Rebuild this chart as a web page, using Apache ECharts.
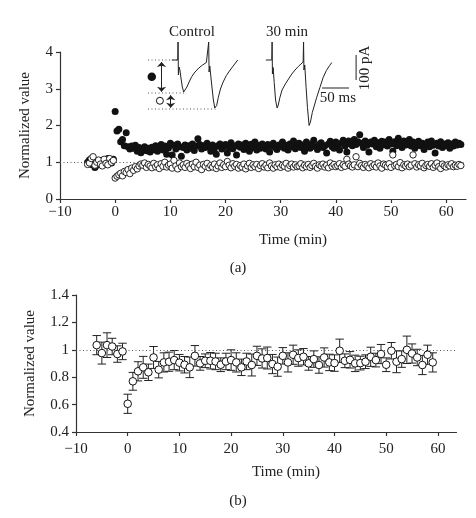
<!DOCTYPE html>
<html>
<head>
<meta charset="utf-8">
<script src="https://cdn.jsdelivr.net/npm/echarts@6/dist/echarts.min.js"></script>
<style>
html,body{margin:0;padding:0;background:#fff;}
#chart{width:476px;height:518px;}
</style>
</head>
<body>
<div id="chart"></div>
<script>
// ---------- Panel (a) data: sampled every 1/3 min ----------
const aBaseStart = -5;       // first baseline time (min)
const aPostStart = 0;        // first post time (min)
const aStep = 1 / 3;         // sampling step (min)
const aFilledBase = [1.00,1.06,0.94,1.08,0.86,0.92,1.02,0.96,1.05,1.00,0.94,1.10,1.04,0.98,1.08];
const aOpenBase   = [0.94,0.98,1.10,1.15,0.92,1.00,1.06,0.95,0.90,1.08,0.97,0.93,1.10,1.00,1.05];
const aFilledPost = [
 2.38,1.85,1.90,1.56,1.62,1.45,1.80,1.42,1.36,1.44,
 1.38,1.46,1.30,1.40,1.26,1.36,1.42,1.31,1.38,1.28,
 1.41,1.34,1.45,1.30,1.37,1.48,1.33,1.44,1.22,1.39,
 1.52,1.20,1.46,1.36,1.50,1.42,1.16,1.40,1.47,1.33,
 1.45,1.38,1.50,1.32,1.44,1.64,1.48,1.36,1.45,1.40,
 1.52,1.43,1.30,1.47,1.38,1.22,1.45,1.50,1.36,1.42,
 1.48,1.25,1.40,1.53,1.37,1.44,1.20,1.50,1.41,1.47,
 1.35,1.52,1.44,1.30,1.49,1.40,1.55,1.33,1.46,1.38,
 1.50,1.42,1.36,1.48,1.28,1.45,1.52,1.40,1.35,1.47,
 1.43,1.55,1.38,1.46,1.33,1.50,1.42,1.58,1.37,1.45,
 1.52,1.40,1.47,1.30,1.55,1.44,1.38,1.50,1.60,1.42,
 1.35,1.48,1.53,1.40,1.45,1.25,1.50,1.57,1.42,1.38,
 1.55,1.47,1.33,1.52,1.60,1.44,1.28,1.58,1.50,1.45,
 1.62,1.48,1.56,1.75,1.52,1.40,1.58,1.46,1.28,1.55,
 1.50,1.60,1.42,1.53,1.38,1.57,1.48,1.55,1.44,1.62,
 1.50,1.30,1.56,1.45,1.65,1.52,1.40,1.58,1.47,1.53,
 1.62,1.44,1.55,1.38,1.50,1.57,1.45,1.52,1.35,1.48,
 1.55,1.42,1.58,1.46,1.25,1.52,1.44,1.56,1.40,1.50,
 1.45,1.53,1.38,1.50,1.44,1.55,1.47,1.52,1.48
];
const aOpenPost = [
 0.57,0.62,0.66,0.70,0.63,0.75,0.72,0.80,0.69,0.84,
 0.78,0.88,0.82,0.90,0.95,0.92,0.98,0.86,0.94,0.90,
 0.85,0.97,0.88,0.93,0.83,0.96,0.89,1.00,0.87,0.92,
 0.95,0.84,1.05,0.90,0.82,0.98,0.88,0.93,0.86,0.97,
 0.90,0.83,0.95,0.88,1.00,0.86,0.92,0.80,0.94,0.89,
 0.97,0.85,0.91,0.87,0.95,0.83,0.90,0.98,0.86,0.93,
 0.88,1.02,0.92,0.85,0.96,0.89,0.94,0.84,0.91,0.87,
 0.95,0.82,0.90,0.97,0.86,0.93,0.88,0.94,0.83,0.91,
 0.96,0.87,0.92,0.85,0.98,0.90,0.84,0.93,0.88,0.95,
 0.86,0.92,0.89,0.97,0.84,0.91,0.95,0.87,0.93,0.88,
 0.90,0.96,0.85,0.92,0.88,0.94,0.86,0.91,0.97,0.89,
 0.84,0.93,0.90,0.95,0.87,0.92,0.85,0.98,0.89,0.94,
 0.88,0.91,0.96,0.86,0.93,0.89,1.08,0.95,0.90,0.87,
 0.93,1.15,0.88,0.97,0.91,0.86,0.94,0.90,0.85,0.96,
 0.89,0.93,0.87,0.98,0.90,0.84,0.95,0.92,0.88,0.96,
 0.86,1.20,0.91,0.94,0.88,0.99,0.85,0.93,0.90,0.95,
 0.88,0.92,1.20,0.96,0.87,0.93,0.90,0.97,0.85,0.91,
 0.94,0.89,0.96,0.86,0.92,0.98,0.88,0.83,0.95,0.90,
 0.87,0.93,0.90,0.96,0.88,0.92,0.89,0.94,0.91
];

// ---------- Panel (b) data: one mean per minute ----------
const bTimes = [-6,-5,-4,-3,-2,-1,0,1,2,3,4,5,6,7,8,9,10,11,12,13,14,15,16,17,18,19,20,
 21,22,23,24,25,26,27,28,29,30,31,32,33,34,35,36,37,38,39,40,41,42,43,44,45,46,47,48,49,50,51,52,53,54,55,56,57,58,59];
const bMeans = [1.034,0.976,1.034,1.024,0.969,0.988,0.606,0.770,0.843,0.872,0.836,0.944,0.855,0.908,0.913,0.925,0.906,0.891,0.872,0.956,0.901,0.920,0.920,0.915,0.891,0.915,0.925,
 0.908,0.872,0.915,0.889,0.956,0.937,0.940,0.896,0.877,0.956,0.908,0.964,0.940,0.949,0.901,0.932,0.889,0.944,0.908,0.903,0.993,0.920,0.927,0.901,0.903,0.913,0.949,0.925,0.969,0.891,0.993,0.913,0.932,1.000,0.973,0.944,0.889,0.964,0.908];
const bErrors = [0.07,0.08,0.09,0.06,0.06,0.06,0.07,0.065,0.07,0.08,0.06,0.08,0.06,0.07,0.07,0.07,0.06,0.06,0.075,0.075,0.05,0.05,0.06,0.06,0.05,0.06,0.075,
 0.07,0.06,0.06,0.08,0.07,0.07,0.08,0.07,0.07,0.06,0.07,0.07,0.06,0.06,0.05,0.06,0.06,0.07,0.06,0.06,0.085,0.05,0.06,0.06,0.05,0.05,0.07,0.05,0.07,0.05,0.06,0.08,0.06,0.10,0.07,0.06,0.07,0.07,0.07];

// ---------- Axis ticks ----------
const xTicks = [-10,0,10,20,30,40,50,60];
const aYTicks = [0,1,2,3,4];
const bYTicks = [0.4,0.6,0.8,1,1.2,1.4];

// ---------- Inset traces (ms, pA) ----------
const traceControl = [[44,0],[55,0],[55.6,72],[56.2,-60],[57.5,-28],[59,-40],[61,-72],[63.5,-108],[66,-128],[67.6,-132],[69.5,-124],[72,-108],[76,-88],[81,-66],[87,-48],[94,-32],[101,-20],[108,-10],[111.5,-8],[112.3,72],[113,-48],[114.3,-24],[116,-60],[118.5,-112],[121,-160],[123.5,-192],[125,-196],[127,-182],[130,-150],[134,-116],[139,-88],[145,-62],[152,-40],[159,-20],[166,0]];
const trace30min = [[218,0],[229,0],[229.6,72],[230.2,-56],[231.5,-30],[233.5,-90],[236,-160],[238.9,-192],[241,-180],[244,-150],[248,-120],[254,-96],[260,-76],[266,-56],[272,-40],[278,-26],[283,-16],[287,-8],[287.8,72],[288.5,-40],[290,-20],[292.5,-110],[295,-190],[298,-262],[300.5,-248],[304,-210],[308,-180],[312,-150],[318,-110],[324,-70],[330,-42],[336,-22],[340,-10]];
const guideLines = [[[0,0],[55,0]],[[0,-132],[67,-132]],[[0,-196],[126,-196]]];
const arrowLines = [[[25,-8],[25,-127]],[[42,-141],[42,-191]]];
const markerFilled = [[7,-67]];
const markerOpen = [[22,-163]];
const scaleBarTime = [[322,-112],[372,-112]];   // 50 ms
const scaleBarAmp = [[385,20],[385,-80]];       // 100 pA

// ---------- build ----------
const FONT = "'Liberation Serif','DejaVu Serif',serif";
const INK = '#222';
function seq(start, arr){ return arr.map((v,i)=>[start + i*aStep, v]); }
const filledData = seq(aBaseStart, aFilledBase).concat(seq(aPostStart, aFilledPost));
const openData = seq(aBaseStart, aOpenBase).concat(seq(aPostStart, aOpenPost));
const bData = bTimes.map((t,i)=>[t, bMeans[i], bErrors[i]]);
const fmt = v => String(v).replace('-', '\u2212');

function xAxisCfg(grid, margin){
  return {
    gridIndex: grid, type:'value', min:-10, max:63.6,
    axisLine:{show:true, onZero:false, lineStyle:{color:'#333', width:1.2}},
    axisTick:{show:true, length:4, customValues:xTicks, lineStyle:{color:'#333', width:1.2}},
    axisLabel:{customValues:xTicks, formatter:fmt, margin:margin, color:INK, fontFamily:FONT, fontSize:15},
    splitLine:{show:false}
  };
}
function yAxisCfg(grid, min, max, ticks, gap){
  return {
    gridIndex: grid, type:'value', min:min, max:max,
    name:'Normalized value', nameLocation:'middle', nameGap:gap, nameRotate:90,
    nameTextStyle:{color:INK, fontFamily:FONT, fontSize:15},
    axisLine:{show:true, onZero:false, lineStyle:{color:'#333', width:1.2}},
    axisTick:{show:true, length:4, customValues:ticks, lineStyle:{color:'#333', width:1.2}},
    axisLabel:{customValues:ticks, margin:7, color:INK, fontFamily:FONT, fontSize:15},
    splitLine:{show:false}
  };
}
const dotted = {color:'#555', width:1, type:[1,2.5]};

const chart = echarts.init(document.getElementById('chart'), null, {renderer:'canvas'});
const option = {
  animation:false,
  backgroundColor:'#fff',
  grid:[
    {left:60, top:52, width:406, height:147},
    {left:76, top:295, width:380.5, height:137},
    {left:148, top:30, width:220, height:100}
  ],
  xAxis:[
    xAxisCfg(0, 6),
    xAxisCfg(1, 10),
    {gridIndex:2, type:'value', min:0, max:407, show:false}
  ],
  yAxis:[
    yAxisCfg(0, 0, 4, aYTicks, 27),
    yAxisCfg(1, 0.4, 1.4, bYTicks, 38),
    {gridIndex:2, type:'value', min:-280, max:120, show:false}
  ],
  series:[
    {type:'scatter', xAxisIndex:0, yAxisIndex:0, data:filledData, symbol:'circle', symbolSize:7,
     itemStyle:{color:'#111', opacity:1}, silent:true, z:3,
     markLine:{silent:true, symbol:'none', label:{show:false}, lineStyle:dotted, data:[{yAxis:1}], z:1}},
    {type:'scatter', xAxisIndex:0, yAxisIndex:0, data:openData, symbol:'circle', symbolSize:6.4,
     itemStyle:{color:'#fff', borderColor:'#111', borderWidth:0.9, opacity:1}, silent:true, z:4},
    {type:'custom', xAxisIndex:1, yAxisIndex:1, data:bData, silent:true, z:2,
     markLine:{silent:true, symbol:'none', label:{show:false}, lineStyle:dotted, data:[{yAxis:1}]},
     renderItem:function(params, api){
       const x = api.value(0), y = api.value(1), e = api.value(2);
       const top = api.coord([x, y+e]), bot = api.coord([x, y-e]);
       const hw = 4.2;
       const st = {stroke:'#222', lineWidth:1};
       return {type:'group', children:[
         {type:'line', shape:{x1:top[0], y1:top[1], x2:bot[0], y2:bot[1]}, style:st},
         {type:'line', shape:{x1:top[0]-hw, y1:top[1], x2:top[0]+hw, y2:top[1]}, style:st},
         {type:'line', shape:{x1:bot[0]-hw, y1:bot[1], x2:bot[0]+hw, y2:bot[1]}, style:st}
       ]};
     }},
    {type:'scatter', xAxisIndex:1, yAxisIndex:1, data:bData.map(d=>[d[0], d[1]]), symbol:'circle', symbolSize:7.6,
     itemStyle:{color:'#fff', borderColor:'#111', borderWidth:1, opacity:1}, silent:true, z:5},
    // inset
    {type:'line', xAxisIndex:2, yAxisIndex:2, data:traceControl, showSymbol:false, silent:true,
     lineStyle:{color:'#222', width:1}},
    {type:'line', xAxisIndex:2, yAxisIndex:2, data:trace30min, showSymbol:false, silent:true,
     lineStyle:{color:'#222', width:1}},
    ...guideLines.map(g=>({type:'line', xAxisIndex:2, yAxisIndex:2, data:g, showSymbol:false, silent:true,
     lineStyle:{color:'#555', width:1, type:[1,2.5]}})),
    {type:'line', xAxisIndex:2, yAxisIndex:2, data:[], silent:true,
     markLine:{silent:true, symbol:['arrow','arrow'], symbolSize:[7,5], label:{show:false},
       lineStyle:{color:'#222', width:1, type:'solid'},
       data: arrowLines.map(a=>[{coord:a[0]},{coord:a[1]}])}},
    {type:'line', xAxisIndex:2, yAxisIndex:2, data:scaleBarTime, showSymbol:false, silent:true,
     lineStyle:{color:'#222', width:1}},
    {type:'line', xAxisIndex:2, yAxisIndex:2, data:scaleBarAmp, showSymbol:false, silent:true,
     lineStyle:{color:'#222', width:1}},
    {type:'scatter', xAxisIndex:2, yAxisIndex:2, data:markerFilled, symbolSize:8.5, silent:true,
     itemStyle:{color:'#111', opacity:1}},
    {type:'scatter', xAxisIndex:2, yAxisIndex:2, data:markerOpen, symbolSize:7, silent:true,
     itemStyle:{color:'#fff', borderColor:'#111', borderWidth:1, opacity:1}}
  ],
  graphic:[
    {type:'text', x:192, y:32, style:{text:'Control', font:'15px '+FONT, fill:INK, align:'center', verticalAlign:'middle'}},
    {type:'text', x:287, y:32, style:{text:'30 min', font:'15px '+FONT, fill:INK, align:'center', verticalAlign:'middle'}},
    {type:'text', x:338, y:98, style:{text:'50 ms', font:'15px '+FONT, fill:INK, align:'center', verticalAlign:'middle'}},
    {type:'text', x:365, y:68, rotation:Math.PI/2, style:{text:'100 pA', font:'15px '+FONT, fill:INK, align:'center', verticalAlign:'middle'}},
    {type:'text', x:293, y:240, style:{text:'Time (min)', font:'15px '+FONT, fill:INK, align:'center', verticalAlign:'middle'}},
    {type:'text', x:238, y:268, style:{text:'(a)', font:'15px '+FONT, fill:INK, align:'center', verticalAlign:'middle'}},
    {type:'text', x:286, y:472, style:{text:'Time (min)', font:'15px '+FONT, fill:INK, align:'center', verticalAlign:'middle'}},
    {type:'text', x:238, y:501, style:{text:'(b)', font:'15px '+FONT, fill:INK, align:'center', verticalAlign:'middle'}}
  ]
};
chart.setOption(option);
</script>
</body>
</html>
